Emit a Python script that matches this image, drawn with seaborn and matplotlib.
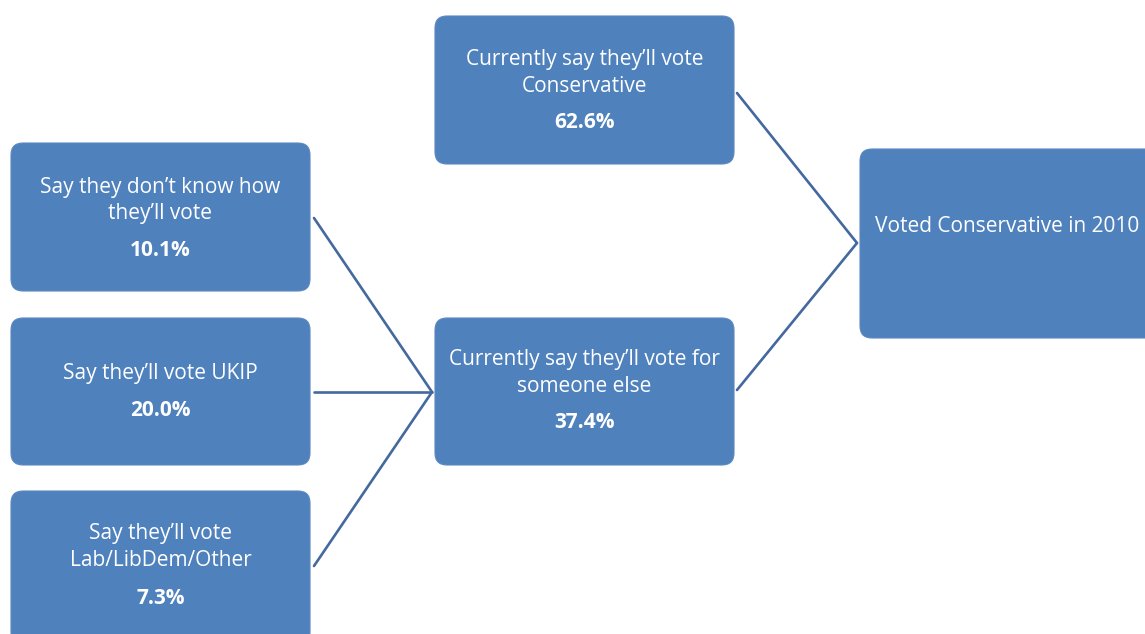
import matplotlib
matplotlib.use("Agg")
import matplotlib.pyplot as plt
from matplotlib.patches import FancyBboxPatch
import seaborn as sns
import pandas as pd

sns.set_theme(style="white")
plt.rcParams['font.family'] = ['Open Sans', 'DejaVu Sans']

# ---- data ----
node_labels = [
    "Currently say they’ll vote\nConservative",
    "Currently say they’ll vote for\nsomeone else",
    "Say they don’t know how\nthey’ll vote",
    "Say they’ll vote UKIP",
    "Say they’ll vote\nLab/LibDem/Other",
]
node_values = [62.6, 37.4, 10.1, 20.0, 7.3]
root_label = "Voted Conservative in 2010"

# ---- layout (pixel coordinates) ----
W, H = 1145, 634
boxes = [  # x0, y0, x1, y1
    (435, 16, 734, 164),
    (435, 318, 734, 465),
    (11, 143, 310, 291),
    (11, 318, 310, 465),
    (11, 491, 310, 645),
]
root_box = (860, 149, 1165, 338)
text_y = [(60, 86, 123), (360, 386, 423), (187, 213, 250), (374, None, 411), (534, 560, 598)]

BOX = "#4F81BD"
LINE = "#44699E"
FS = 15

fig = plt.figure(figsize=(W / 100, H / 100), dpi=100)
ax = fig.add_axes([0, 0, 1, 1])

# connectors
conn = pd.DataFrame({
    "x": [314, 432, 314, 432, 314, 432, 737, 857, 737, 857],
    "y": [218, 392, 392, 392, 566, 392, 93, 243, 390, 243],
    "seg": [0, 0, 1, 1, 2, 2, 3, 3, 4, 4],
})
sns.lineplot(data=conn, x="x", y="y", units="seg", estimator=None, sort=False,
             color=LINE, linewidth=1.9, ax=ax, legend=False)
ax.set_xlim(0, W)
ax.set_ylim(H, 0)
ax.axis("off")

def draw_box(b):
    x0, y0, x1, y1 = b
    r = 12
    p = FancyBboxPatch((x0 + r, y0 + r), (x1 - x0) - 2 * r, (y1 - y0) - 2 * r,
                       boxstyle=f"round,pad={r}", facecolor=BOX, edgecolor="#5B88C0",
                       linewidth=0.8, zorder=3)
    ax.add_patch(p)

for b, lab, v, ty in zip(boxes, node_labels, node_values, text_y):
    draw_box(b)
    cx = (b[0] + b[2]) / 2
    lines = lab.split("\n")
    ax.text(cx, ty[0], lines[0], color="white", ha="center", va="center", fontsize=FS, zorder=4)
    if len(lines) > 1:
        ax.text(cx, ty[1], lines[1], color="white", ha="center", va="center", fontsize=FS, zorder=4)
    ax.text(cx, ty[2], f"{v:.1f}%", color="white", ha="center", va="center", fontsize=FS,
            fontweight="bold", zorder=4)

draw_box(root_box)
ax.text(1007, 227, root_label, color="white", ha="center", va="center", fontsize=FS, zorder=4)

fig.savefig("out.png", dpi=100, facecolor="white")
